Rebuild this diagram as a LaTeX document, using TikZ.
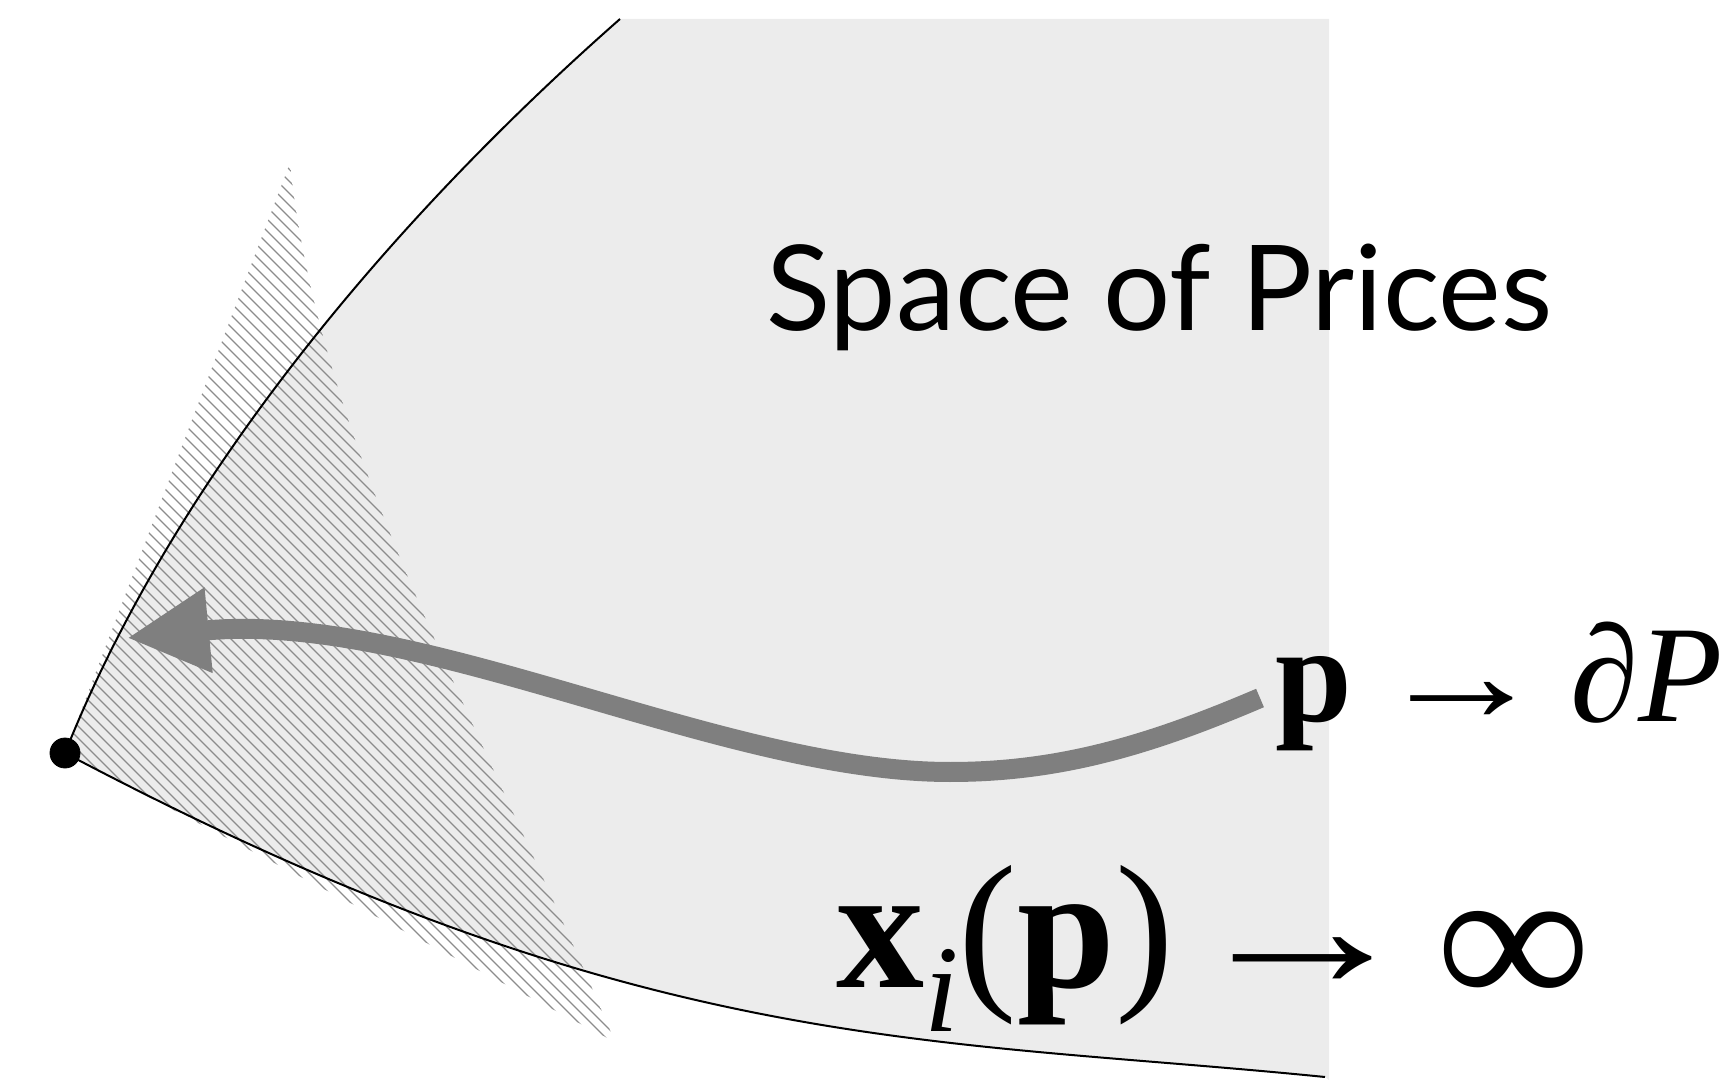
\documentclass[tikz,border=0pt]{standalone}
\usepackage{fontspec}
\setmainfont{Liberation Serif}
\newfontfamily\latofont{Lato}
\usetikzlibrary{arrows.meta}
\definecolor{regiongray}{RGB}{236,236,236}
\definecolor{hatchgray}{RGB}{140,140,140}
\definecolor{arrowgray}{RGB}{127,127,127}

\begin{document}
\begin{tikzpicture}[x=0.5pt,y=-0.5pt,
  edge/.style={draw=black, line width=1pt},
  hatch/.style={draw=hatchgray, line width=0.65pt},
  limit/.style={anchor=base west, inner sep=0pt}]
\useasboundingbox (0,0) rectangle (1736,1080);

\coordinate (corner) at (65,753);
\coordinate (top) at (620,19);
\coordinate (bottom) at (1325,1077);

\fill[regiongray] (corner) .. controls (176,474) and (395,217) .. (top) -- (1329,19) -- (1329,1080) -- (bottom) .. controls (927,1037) and (640,1057) .. (corner) -- cycle;

% hatched cone at the corner
\begin{scope}
\clip (290,163) -- (corner) -- (615,1042) .. controls (480,720) and (320,450) .. (290,163) -- cycle;
\foreach \c in {-720,-708,...,140}
  \draw[hatch] (\c+100,100) -- (\c+1100,1100);
\end{scope}

\draw[edge] (corner) .. controls (176,474) and (395,217) .. (top);
\draw[edge] (corner) .. controls (640,1057) and (927,1037) .. (bottom);

\coordinate (start) at (1260,698);
\coordinate (low) at (950,772);
\coordinate (tip) at (127,638);
\draw[arrowgray, line width=10pt, -{Triangle[length=41pt,width=40pt]}]
  (start) .. controls (1150,745) and (1060,772) .. (low)
  .. controls (720,772) and (420,610) .. (tip);

\draw[fill] (corner) circle [radius=15];

\node[limit, font=\latofont\fontsize{59.3}{72}\selectfont] (space) at (766,331) {Space of Prices};
\node[limit, font=\fontsize{69}{80}\selectfont] (plim) at (1275,721)
  {\textbf{p}\,\scalebox{1.25}[1]{→}\,\textit{∂P}};
\node[limit, font=\fontsize{88}{100}\selectfont] (xlim) at (836,987)
  {\textbf{x}\raisebox{-22pt}{\fontsize{62}{70}\selectfont\textit{i}}(\textbf{p})\hspace{6pt}\scalebox{1.33}[1]{\textbf{→}}\hspace{9pt}\raisebox{-10.5pt}{\scalebox{1.2}[1.15]{\textbf{∞}}}};
\end{tikzpicture}
\end{document}
